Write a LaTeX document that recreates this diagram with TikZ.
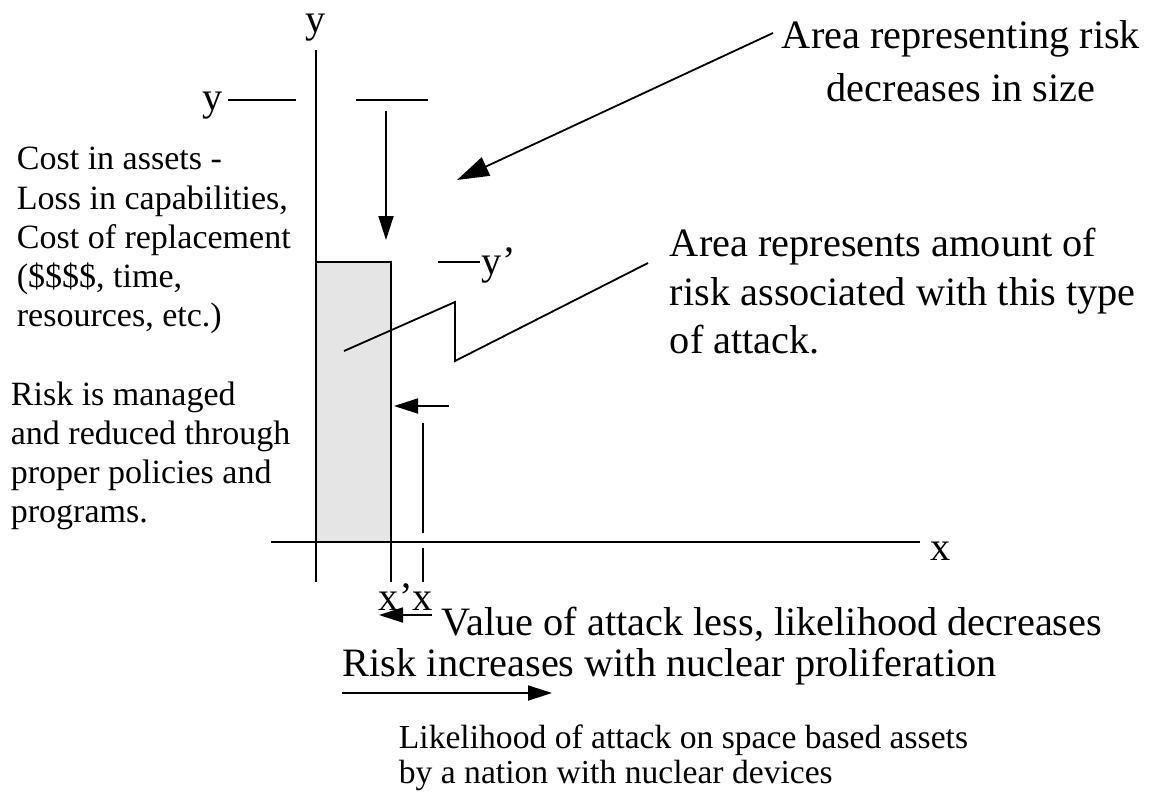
\documentclass[tikz,border=0pt]{standalone}
\usepackage{fontspec}
\setmainfont{Liberation Serif}
\usetikzlibrary{arrows.meta}
\begin{document}
\begin{tikzpicture}[x=1pt,y=-1pt,line width=1.8pt,
  arr/.style={-{Triangle[length=24pt,width=15pt]}},
  bigarr/.style={-{Triangle[length=32pt,width=20pt]}},
  bigtxt/.style={font=\fontsize{40.3}{48}\selectfont,inner sep=0pt,anchor=base west},
  midtxt/.style={font=\fontsize{34}{39}\selectfont,inner sep=0pt,anchor=base west},
  smalltxt/.style={font=\fontsize{33.6}{35}\selectfont,inner sep=0pt,anchor=base west},
  shade/.style={fill=black!10,draw=none}]
\useasboundingbox (0,0) rectangle (1151,795);

% axes
\coordinate (ytop) at (316,50);
\coordinate (ybot) at (316,582);
\coordinate (xl) at (271,542);
\coordinate (xr) at (920,542);
% shaded area
\coordinate (rtl) at (316,262);
\coordinate (rtr) at (391,262);
\coordinate (rbr) at (391,542);
\coordinate (rlow) at (391,582);
\fill[shade] (rtl) rectangle (rbr);
\draw (ytop) -- (ybot);
\draw (xl) -- (xr);
\draw (rtl) -- (rtr) -- (rlow);

\node[bigtxt,anchor=base] (ylabtop) at (316,32) {y};
\node[bigtxt,anchor=base] (xlabr) at (941,560) {x};

% y levels
\node[bigtxt,anchor=base] (ylabl) at (213,110) {y};
\coordinate (yl1) at (228,100);
\coordinate (yl2) at (296,100);
\coordinate (yr1) at (356,100);
\coordinate (yr2) at (428,100);
\draw (yl1) -- (yl2);
\draw (yr1) -- (yr2);
\coordinate (dA) at (386,111);
\coordinate (dB) at (386,240);
\draw[arr] (dA) -- (dB);

\coordinate (yp1) at (438,262);
\coordinate (yp2) at (480,262);
\draw (yp1) -- (yp2);
\node[bigtxt] (yplab) at (481,274) {y’};

% x level
\coordinate (lA) at (449,406);
\coordinate (lB) at (394,406);
\draw[arr] (lA) -- (lB);
\coordinate (xt1) at (423,423);
\coordinate (xt2) at (423,533);
\coordinate (xt3) at (423,548);
\coordinate (xt4) at (423,582);
\draw (xt1) -- (xt2);
\draw (xt3) -- (xt4);
\node[bigtxt] (xlab) at (378,610) {x’x};

% zigzag pointer
\coordinate (z1) at (344,351);
\coordinate (z2) at (455,302);
\coordinate (z3) at (455,361);
\coordinate (z4) at (648,263);
\draw[line join=miter] (z1) -- (z2) -- (z3) -- (z4);

% big arrow
\coordinate (bA) at (773,33);
\coordinate (bB) at (457,180);
\draw[bigarr] (bA) -- (bB);

% right texts
\node[bigtxt,anchor=base] (t1a) at (961,48) {Area representing risk};
\node[bigtxt,anchor=base] (t1b) at (961,101) {decreases in size};
\node[bigtxt] (t2a) at (669,256) {Area represents amount of};
\node[bigtxt] (t2b) at (669,305) {risk associated with this type};
\node[bigtxt] (t2c) at (669,353) {of attack.};

% left texts
\node[midtxt] (c1) at (16,169) {Cost in assets -};
\node[midtxt] (c2) at (16,209) {Loss in capabilities,};
\node[midtxt] (c3) at (16,248) {Cost of replacement};
\node[midtxt] (c4) at (16,287) {(\$\$\$\$, time,};
\node[midtxt] (c5) at (16,326) {resources, etc.)};
\node[midtxt] (r1) at (10,405) {Risk is managed};
\node[midtxt] (r2) at (10,444) {and reduced through};
\node[midtxt] (r3) at (10,483) {proper policies and};
\node[midtxt] (r4) at (10,522) {programs.};

% bottom
\coordinate (vA) at (432,615);
\coordinate (vB) at (379,615);
\draw[arr] (vA) -- (vB);
\node[bigtxt] (val) at (441,635) {Value of attack less, likelihood decreases};
\node[bigtxt] (risk) at (342,676) {Risk increases with nuclear proliferation};
\coordinate (pA) at (342,693);
\coordinate (pB) at (552,693);
\draw[arr] (pA) -- (pB);
\node[smalltxt] (lk1) at (398,748) {Likelihood of attack on space based assets};
\node[smalltxt] (lk2) at (398,783) {by a nation with nuclear devices};
\end{tikzpicture}
\end{document}
